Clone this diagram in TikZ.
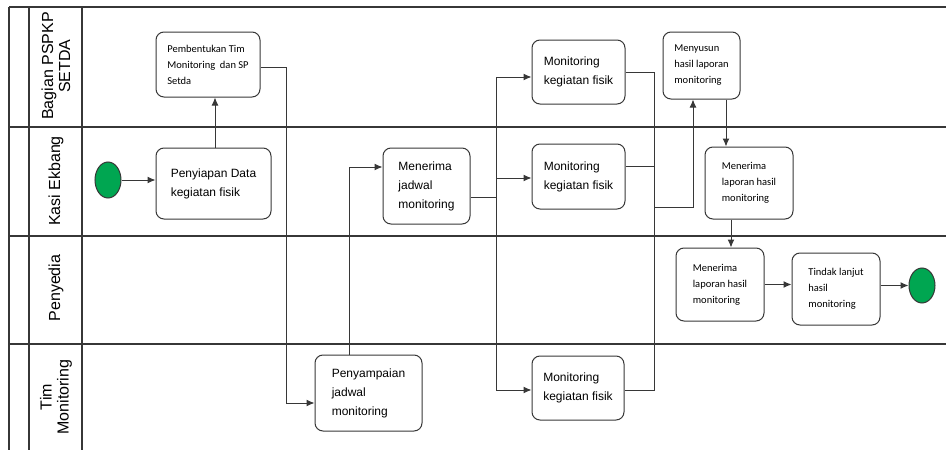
\documentclass[tikz,border=0pt]{standalone}
\usepackage{fontspec}
\setmainfont{Liberation Sans}
\newfontfamily\calfont{Carlito}
\usetikzlibrary{arrows.meta,shapes.geometric}
\definecolor{garis}{RGB}{55,55,55}
\definecolor{hijau}{RGB}{0,166,81}

\begin{document}
\begin{tikzpicture}[> = {Latex[length = 8pt, width = 7pt]}, x = 1pt, y = -1pt,
	lane/.style = {draw = garis, line width = 1.2pt},
	laneteks/.style = {rotate = 90, align = center, inner sep = 0pt, font = \fontsize{16}{17}\selectfont},
	box/.style = {draw = garis, line width = 1pt, rounded corners = 8pt, align = left, inner sep = 0pt, font = \fontsize{12}{19}\selectfont},
	kecil/.style = {box, font = \calfont\fontsize{10.5}{16}\selectfont},
	bulat/.style = {ellipse, draw = garis, fill = hijau, line width = 1pt, minimum width = 26pt, minimum height = 36pt, inner sep = 0pt},
	alur/.style = {draw = garis, line width = 1pt}]

	\useasboundingbox (0, 0) rectangle (946, 450);

	% swimlanes
	\foreach \y in {7, 127, 236, 344}
		\draw [lane] (9, \y) -- (946, \y);
	\foreach \x in {9, 29, 82}
		\draw [lane] (\x, 7) -- (\x, 450);

	\node [laneteks] (lbagian) at (56, 66) {Bagian PSPKP\\SETDA};
	\node [laneteks] (lkasi) at (56, 181) {Kasi Ekbang};
	\node [laneteks] (lpenyedia) at (56, 288) {Penyedia};
	\node [laneteks] (ltim) at (56, 397) {Tim\\Monitoring};

	% aktivitas
	\node [bulat] (mulai) at (108, 180) {};
	\node [kecil, minimum width = 104pt, minimum height = 65pt] (bentuk) at (208, 64.5) {Pembentukan Tim\\Monitoring\ \ dan SP\\Setda};
	\node [box, minimum width = 115pt, minimum height = 71pt] (siap) at (213.5, 183.5) {Penyiapan Data\\kegiatan fisik};
	\node [box, minimum width = 107pt, minimum height = 76pt] (sampai) at (368.5, 393) {Penyampaian\\jadwal\\monitoring};
	\node [box, minimum width = 87pt, minimum height = 76pt] (jadwal) at (426.5, 186) {Menerima\\jadwal\\monitoring};
	\node [box, minimum width = 93pt, minimum height = 64pt] (mon1) at (578.5, 72) {Monitoring\\kegiatan fisik};
	\node [box, minimum width = 93pt, minimum height = 65pt] (mon2) at (578.5, 176.5) {Monitoring\\kegiatan fisik};
	\node [box, minimum width = 92pt, minimum height = 64pt] (mon3) at (578, 388) {Monitoring\\kegiatan fisik};
	\node [kecil, minimum width = 77pt, minimum height = 67pt] (susun) at (701.5, 65.5) {Menyusun\\hasil laporan\\monitoring};
	\node [kecil, minimum width = 88pt, minimum height = 72pt] (terima1) at (749, 183) {Menerima\\laporan hasil\\monitoring};
	\node [kecil, minimum width = 88pt, minimum height = 73pt] (terima2) at (720, 284.5) {Menerima\\laporan hasil\\monitoring};
	\node [kecil, minimum width = 88pt, minimum height = 72pt] (lanjut) at (836, 289) {Tindak lanjut\\hasil\\monitoring};
	\node [bulat, minimum height = 35pt] (selesai) at (922, 285.5) {};

	% alur
	\draw [alur, ->] (mulai) -- (mulai -| siap.west);
	\draw [alur, ->] ([xshift = 1.5pt]siap.north) -- ([xshift = 1.5pt]siap.north |- bentuk.south);
	\draw [alur, ->] ([yshift = -2.5pt]bentuk.east) -- ++(26, 0) |- ([yshift = -10pt]sampai.west);
	\draw [alur, ->] ([xshift = -19.5pt]sampai.north) |- ([yshift = 19pt]jadwal.west);

	\coordinate (cabang) at (496, 197);
	\draw [alur] ([yshift = -11pt]jadwal.east) -- (cabang);
	\draw [alur, ->] (cabang) |- ([yshift = -5pt]mon1.west);
	\draw [alur, ->] (cabang) |- ([yshift = -1.5pt]mon2.west);
	\draw [alur, ->] (cabang) |- ([yshift = -2pt]mon3.west);

	\coordinate (gabung) at (654, 207);
	\draw [alur] (mon1.east) -| (gabung);
	\draw [alur] ([yshift = 10.5pt]mon2.east) -- ([yshift = 10.5pt]mon2.east -| gabung);
	\draw [alur] ([yshift = -2pt]mon3.east) -| (gabung);
	\draw [alur, ->] (gabung) -| ([xshift = -8.5pt]susun.south);

	\draw [alur, ->] ([xshift = 24.5pt]susun.south) -- ([xshift = 24.5pt]susun.south |- terima1.north);
	\draw [alur, ->] ([xshift = -18pt]terima1.south) -- ([xshift = -18pt]terima1.south |- terima2.north);
	\draw [alur, ->] (terima2.east) -- (terima2.east -| lanjut.west);
	\draw [alur, ->] ([yshift = 3.5pt]lanjut.east) -- (selesai.west);

\end{tikzpicture}
\end{document}
